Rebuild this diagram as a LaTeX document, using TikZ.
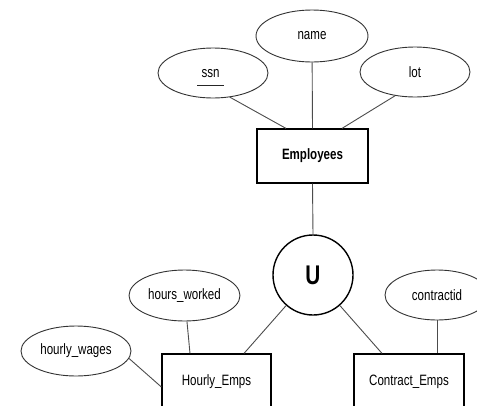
\documentclass[tikz,border=0pt]{standalone}
\usepackage{fontspec}
\setmainfont{Liberation Sans}[FakeStretch=0.77]
\usetikzlibrary{shapes.geometric}
\begin{document}
\begin{tikzpicture}[x=1pt,y=-1pt,
  attr/.style={ellipse,draw=black!80,line width=0.9pt,inner sep=0pt,
    minimum width=110pt,minimum height=50pt,font=\fontsize{15}{17}\selectfont},
  entity/.style={rectangle,draw=black,line width=1.2pt,inner sep=0pt,
    font=\fontsize{15}{17}\selectfont},
  link/.style={draw=black!70,line width=0.9pt},
  keyline/.style={draw=black!85,line width=0.9pt},
  unionop/.style={circle,draw=black,line width=1.4pt,minimum size=80pt,inner sep=0pt,
    font=\fontsize{27}{29}\selectfont\bfseries}]
  \clip (0,0) rectangle (477,405);
  \fill[white] (0,0) rectangle (477,405);

  % entity sets
  \node[entity,minimum width=111pt,minimum height=54pt] (emp) at (312.5,156) {\bfseries Employees};
  \node[entity,minimum width=109pt,minimum height=56pt] (hourly) at (216.5,382) {Hourly\_Emps};
  \node[entity,minimum width=110pt,minimum height=56pt] (contract) at (409,382) {Contract\_Emps};

  % union operator
  \node[unionop] (U) at (313,275) {U};

  % attributes
  \node[attr,minimum width=112pt,minimum height=52pt] (name) at (312,36) {name};
  \node[attr] (ssn) at (213,73) {};
  \node[font=\fontsize{15}{17}\selectfont] (ssntext) at (210.5,74) {ssn};
  \draw[keyline] ([xshift=-13.5pt,yshift=-11pt]ssntext.center) -- ([xshift=13.5pt,yshift=-11pt]ssntext.center);
  \node[attr] (lot) at (415,72) {lot};
  \node[attr,minimum width=111pt,minimum height=51pt] (hoursw) at (184.5,295.5) {hours\_worked};
  \node[attr,minimum width=110pt] (hwages) at (76,351) {hourly\_wages};
  \node[attr,minimum width=104pt] (cid) at (437,295) {contractid};

  % attribute links
  \draw[link] (ssn.-55) -- ([xshift=-26.5pt]emp.north);
  \draw[link] (name) -- (emp.north);
  \draw[link] (lot.-130) -- ([xshift=29.5pt]emp.north);
  \draw[link] (hoursw) -- ([xshift=-26.5pt]hourly.north);
  \draw[link] (hwages.-8) -- ([yshift=-5pt]hourly.west);
  \draw[link] (cid) -- ([xshift=28pt]contract.north);

  % hierarchy links
  \draw[link] (emp.south) -- (U.north);
  \draw[link] (U) -- ([xshift=27.5pt]hourly.north);
  \draw[link] (U) -- ([xshift=-27pt]contract.north);
\end{tikzpicture}
\end{document}
